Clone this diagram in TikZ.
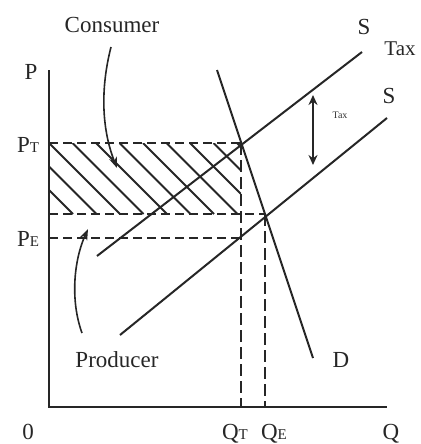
\documentclass[tikz,border=0pt]{standalone}
\usepackage{fontspec}
\setmainfont{Liberation Serif}
\usetikzlibrary{arrows.meta}
\newcommand{\subsc}[1]{{\fontsize{15}{16}\selectfont #1}}
\begin{document}
\begin{tikzpicture}[x=1pt,y=-1pt,
  curve/.style={line width=2pt, draw=black!85},
  guide/.style={line width=2pt, draw=black!85, dash pattern=on 9pt off 5pt},
  vguide/.style={line width=2pt, draw=black!85, dash pattern=on 12pt off 5pt},
  hatch/.style={line width=2pt, draw=black!85},
  lbl/.style={font=\fontsize{23}{25}\selectfont, inner sep=0pt, text=black!85},
  tiny/.style={font=\fontsize{10}{11}\selectfont, inner sep=0pt, text=black!80},
  pointer/.style={line width=1.6pt, draw=black!85, -{Stealth[length=11pt,width=8pt]}}]
\useasboundingbox (0,0) rectangle (420,444);
% axes
\coordinate (O) at (49,407);
\coordinate (Ptop) at (49,70);
\coordinate (Qend) at (387,407);
\draw[line width=2.2pt, draw=black!85] (Ptop) -- (O) -- (Qend);
% key points
\coordinate (PTa) at (49,143);
\coordinate (TC) at (241,143);
\coordinate (PLa) at (49,214);
\coordinate (EC) at (265,214);
\coordinate (PEa) at (49,238);
\coordinate (SQ) at (241,238);
\coordinate (QTb) at (241,407);
\coordinate (QEb) at (265,407);
% hatching
\begin{scope}
\clip (PTa) rectangle (241,214);
\foreach \k in {-4,...,9}{
  \draw[hatch] ({49+23.5*\k},143) -- ({49+23.5*\k+71},214);
}
\end{scope}
% guides
\draw[guide] (PTa) -- (TC);
\draw[vguide] (TC) -- (QTb);
\draw[guide] (PLa) -- (EC);
\draw[vguide] (EC) -- (QEb);
\draw[guide] (PEa) -- (SQ);
% demand
\coordinate (D1) at (217,70);
\coordinate (D2) at (313,358);
\draw[curve] (D1) -- (D2);
% supply with tax
\coordinate (ST1) at (97,256);
\coordinate (ST2) at (362,52);
\draw[curve] (ST1) -- (ST2);
% supply
\coordinate (S1) at (120,335);
\coordinate (S2) at (387,118);
\draw[curve] (S1) -- (S2);
% tax arrow
\coordinate (TA1) at (313,95);
\coordinate (TA2) at (313,165);
\draw[line width=2pt, draw=black!85, {Stealth[length=10pt,width=9pt]}-{Stealth[length=10pt,width=9pt]}] (TA1) -- (TA2);
\node[tiny] (taxs) at (340,115) {Tax};
% labels
\node[lbl] (cons) at (112,25) {Consumer};
\node[lbl] (prod) at (117,360) {Producer};
\node[lbl] (sT) at (364,27) {S};
\node[lbl, font=\fontsize{21}{23}\selectfont] (tT) at (400,49) {Tax};
\node[lbl] (sS) at (389,96) {S};
\node[lbl] (dD) at (341,360) {D};
\node[lbl] (pP) at (31,72) {P};
\node[lbl, anchor=base] (pT) at (28,152) {P\subsc{T}};
\node[lbl, anchor=base] (pE) at (28,246) {P\subsc{E}};
\node[lbl, anchor=base] (zero) at (28,439) {0};
\node[lbl, anchor=base] (qT) at (235,439) {Q\subsc{T}};
\node[lbl, anchor=base] (qE) at (274,439) {Q\subsc{E}};
\node[lbl, anchor=base] (qQ) at (391,439) {Q};
% pointers
\coordinate (c1) at (111,47);
\coordinate (c2) at (117,168);
\draw[pointer] (c1) .. controls (100,90) and (102,130) .. (c2);
\coordinate (p1) at (82,333);
\coordinate (p2) at (88,229);
\draw[pointer] (p1) .. controls (70,300) and (74,260) .. (p2);
\end{tikzpicture}
\end{document}
